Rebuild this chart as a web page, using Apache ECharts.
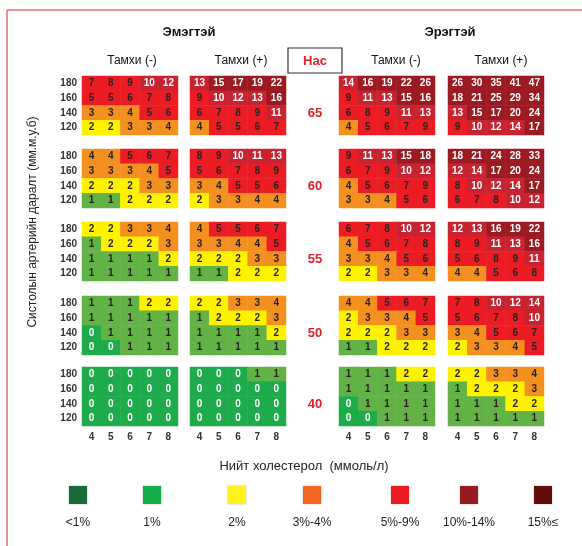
<!DOCTYPE html>
<html><head><meta charset="utf-8">
<script src="https://cdn.jsdelivr.net/npm/echarts@6/dist/echarts.min.js"></script>
<style>html,body{margin:0;padding:0;background:#fff}#c{width:582px;height:546px}</style>
</head><body><div id="c"></div>
<script>
// Categories
const chol = ['4','5','6','7','8'];
const sbp = ['120','140','160','180'];          // bottom -> top
const ages = ['65','60','55','50','40'];
const groupHeaders = ['Эмэгтэй','Эрэгтэй'];
const smokeHeaders = ['Тамхи (-)','Тамхи (+)','Тамхи (-)','Тамхи (+)'];
const legendLabels = ['<1%','1%','2%','3%-4%','5%-9%','10%-14%','15%≤'];
const legendColors = ['#1a6b38','#13ad4a','#fff21a','#f26522','#ed1c24','#961b23','#650d0d'];

// Risk values, each age block: rows SBP 180,160,140,120 ; cols chol 4..8
const womenNonSmoker = [
  [[7,8,9,10,12],[5,5,6,7,8],[3,3,4,5,6],[2,2,3,3,4]],
  [[4,4,5,6,7],[3,3,3,4,5],[2,2,2,3,3],[1,1,2,2,2]],
  [[2,2,3,3,4],[1,2,2,2,3],[1,1,1,1,2],[1,1,1,1,1]],
  [[1,1,1,2,2],[1,1,1,1,1],[0,1,1,1,1],[0,0,1,1,1]],
  [[0,0,0,0,0],[0,0,0,0,0],[0,0,0,0,0],[0,0,0,0,0]]
];
const womenSmoker = [
  [[13,15,17,19,22],[9,10,12,13,16],[6,7,8,9,11],[4,5,5,6,7]],
  [[8,9,10,11,13],[5,6,7,8,9],[3,4,5,5,6],[2,3,3,4,4]],
  [[4,5,5,6,7],[3,3,4,4,5],[2,2,2,3,3],[1,1,2,2,2]],
  [[2,2,3,3,4],[1,2,2,2,3],[1,1,1,1,2],[1,1,1,1,1]],
  [[0,0,0,1,1],[0,0,0,0,0],[0,0,0,0,0],[0,0,0,0,0]]
];
const menNonSmoker = [
  [[14,16,19,22,26],[9,11,13,15,16],[6,8,9,11,13],[4,5,6,7,9]],
  [[9,11,13,15,18],[6,7,9,10,12],[4,5,6,7,9],[3,3,4,5,6]],
  [[6,7,8,10,12],[4,5,6,7,8],[3,3,4,5,6],[2,2,3,3,4]],
  [[4,4,5,6,7],[2,3,3,4,5],[2,2,2,3,3],[1,1,2,2,2]],
  [[1,1,1,2,2],[1,1,1,1,1],[0,1,1,1,1],[0,0,1,1,1]]
];
const menSmoker = [
  [[26,30,35,41,47],[18,21,25,29,34],[13,15,17,20,24],[9,10,12,14,17]],
  [[18,21,24,28,33],[12,14,17,20,24],[8,10,12,14,17],[6,7,8,10,12]],
  [[12,13,16,19,22],[8,9,11,13,16],[5,6,8,9,11],[4,4,5,6,8]],
  [[7,8,10,12,14],[5,6,7,8,10],[3,4,5,6,7],[2,3,3,4,5]],
  [[2,2,3,3,4],[1,2,2,2,3],[1,1,1,2,2],[1,1,1,1,1]]
];
const panels = [womenNonSmoker, womenSmoker, menNonSmoker, menSmoker];

// Layout
const FONT = '"Liberation Sans", Arial, sans-serif';
const panelLeft = [82, 190, 339, 448];
const panelW = 96;
const ageTop = [76, 149, 222, 296, 367];
const panelH = 59;

const grids = [], xAxes = [], yAxes = [], series = [];
ages.forEach((age, a) => {
  panels.forEach((panel, p) => {
    const idx = grids.length;
    grids.push({left: panelLeft[p], top: ageTop[a], width: panelW, height: panelH, containLabel: false});
    xAxes.push({type:'category', gridIndex: idx, data: chol,
      axisLine:{show:false}, axisTick:{show:false}, splitLine:{show:false},
      axisLabel:{show: a === ages.length-1, fontSize:10, fontWeight:'bold', color:'#333', margin:6, fontFamily: FONT}});
    yAxes.push({type:'category', gridIndex: idx, data: sbp,
      axisLine:{show:false}, axisTick:{show:false}, splitLine:{show:false},
      axisLabel:{show: p === 0, fontSize:10, fontWeight:'bold', color:'#333', margin:5, fontFamily: FONT}});
    const data = [];
    panel[a].forEach((row, r) => {
      row.forEach((v, c) => { data.push([c, sbp.length-1-r, v]); });
    });
    series.push({type:'heatmap', xAxisIndex: idx, yAxisIndex: idx, data: data,
      itemStyle:{borderWidth:0},
      emphasis:{disabled:true},
      label:{show:true, fontFamily: FONT, fontSize:10, fontWeight:'bold',
        formatter: (prm) => { const v = prm.value[2]; return (v === 0 || v >= 10) ? '{w|' + v + '}' : '{d|' + v + '}'; },
        rich:{ w:{color:'#ffffff', fontSize:10, fontWeight:'bold', fontFamily: FONT},
               d:{color:'#2a2220', fontSize:10, fontWeight:'bold', fontFamily: FONT} } }
    });
  });
});

const graphic = [
  {type:'line', shape:{x1:7, y1:10, x2:582, y2:10}, style:{stroke:'#d8727a', lineWidth:1.5}},
  {type:'line', shape:{x1:7, y1:10, x2:7, y2:546}, style:{stroke:'#d8727a', lineWidth:1.5}},
  {type:'text', x:189, y:32, style:{text:groupHeaders[0], font:'bold 13px ' + FONT, fill:'#111', align:'center', verticalAlign:'middle'}},
  {type:'text', x:450, y:32, style:{text:groupHeaders[1], font:'bold 13px ' + FONT, fill:'#111', align:'center', verticalAlign:'middle'}},
  {type:'rect', shape:{x:288, y:48, width:54, height:25}, style:{fill:'#fff', stroke:'#333', lineWidth:1.2}},
  {type:'text', x:315, y:61, style:{text:'Нас', font:'bold 13px ' + FONT, fill:'#e0202a', align:'center', verticalAlign:'middle'}},
  {type:'text', x:33, y:222, rotation: Math.PI/2, style:{text:'Систолын артерийн даралт (мм.м.у.б)', font:'12px ' + FONT, fill:'#222', align:'center', verticalAlign:'middle'}},
  {type:'text', x:304, y:466, style:{text:'Нийт холестерол  (ммоль/л)', font:'13px ' + FONT, fill:'#222', align:'center', verticalAlign:'middle'}}
];
const smokeX = [132, 241, 396, 501];
smokeHeaders.forEach((t, i) => {
  graphic.push({type:'text', x: smokeX[i], y: 61, style:{text:t, font:'12px ' + FONT, fill:'#111', align:'center', verticalAlign:'middle'}});
});
ages.forEach((age, a) => {
  graphic.push({type:'text', x:315, y: ageTop[a] + 37, style:{text: age, font:'bold 13px ' + FONT, fill:'#e0202a', align:'center', verticalAlign:'middle'}});
});
const legendX = [78, 152, 237, 312, 400, 469, 543];
legendLabels.forEach((t, i) => {
  graphic.push({type:'rect', shape:{x: legendX[i]-9, y:486, width:18, height:18}, style:{fill: legendColors[i], shadowBlur:2, shadowColor:'rgba(0,0,0,0.3)'}});
  graphic.push({type:'text', x: legendX[i], y: 523, style:{text:t, font:'12px ' + FONT, fill:'#222', align:'center', verticalAlign:'middle'}});
});

const chart = echarts.init(document.getElementById('c'), null, {renderer:'canvas'});
chart.setOption({
  animation:false,
  backgroundColor:'#ffffff',
  grid: grids, xAxis: xAxes, yAxis: yAxes, series: series,
  visualMap: {type:'piecewise', show:false, dimension:2, seriesIndex: series.map((s,i)=>i),
    pieces:[
      {lt:0.5, color:'#1eab4b'},
      {gte:0.5, lt:1.5, color:'#63b246'},
      {gte:1.5, lt:2.5, color:'#fff200'},
      {gte:2.5, lt:4.5, color:'#f3901f'},
      {gte:4.5, lt:9.5, color:'#ec1c24'},
      {gte:9.5, lt:14.5, color:'#c72330'},
      {gte:14.5, color:'#9c1b22'}
    ]},
  graphic: graphic
});
</script></body></html>
